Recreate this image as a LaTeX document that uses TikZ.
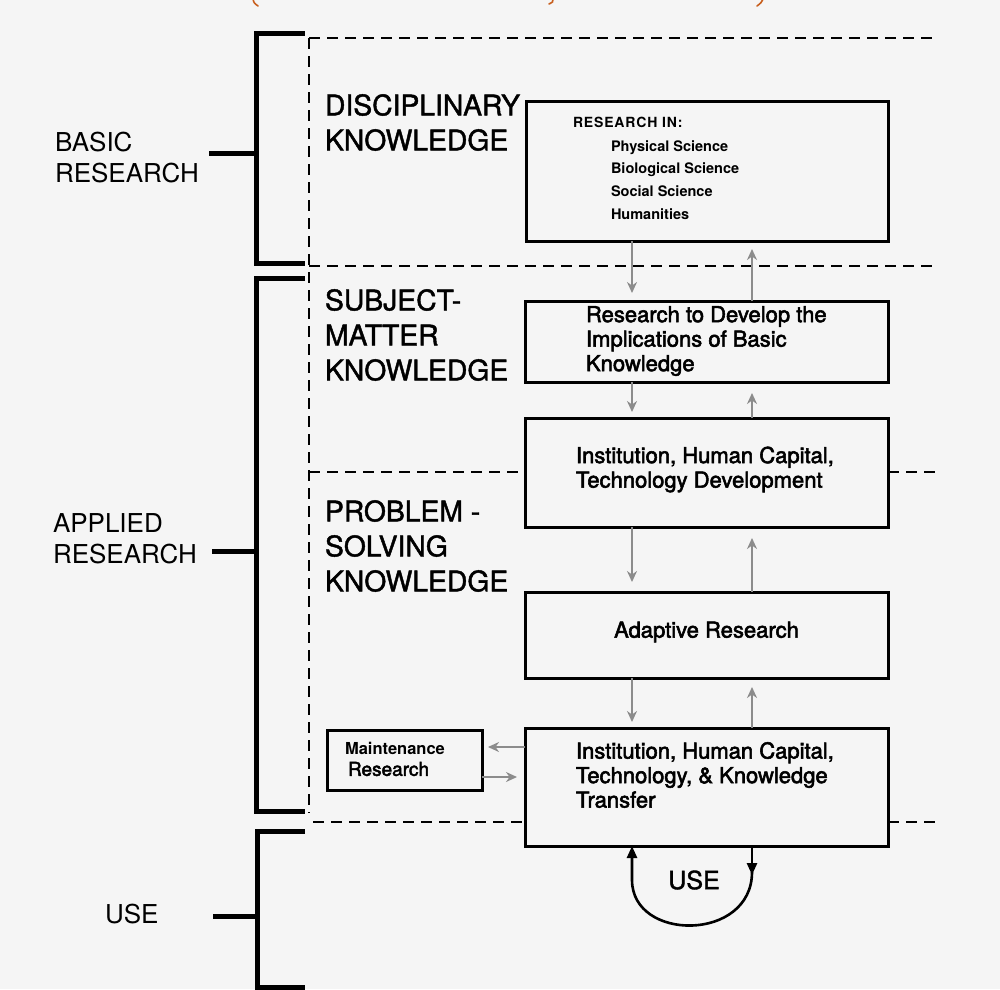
\documentclass[tikz,border=0pt]{standalone}
\usepackage{fontspec}
\setmainfont{TeX Gyre Heros}
\newfontfamily\heavyfont[FakeBold=2.5]{TeX Gyre Heros}
\newfontfamily\midfont[FakeBold=1.5]{TeX Gyre Heros}
\newfontfamily\headfont[LetterSpace=6]{TeX Gyre Heros}
\usetikzlibrary{arrows.meta}
\tikzset{
  boxnode/.style={draw=black, line width=3pt, outer sep=0pt, inner sep=0pt},
  txt/.style={inner sep=0pt, outer sep=0pt, anchor=west, align=left},
  bracket/.style={line width=5pt, line cap=rect},
  dashline/.style={line width=1.8pt, dash pattern=on 11pt off 7pt},
  garrow/.style={draw=black!45, line width=1.9pt, -{Stealth[length=11pt,width=10pt,color=black!45,fill=black!35]}},
  barrow/.style={line width=2.6pt, -{Triangle[length=12pt,width=10pt]}},
  redpen/.style={draw={rgb,255:red,200;green,95;blue,30}, line width=1.6pt, line cap=round},
  bigfont/.style={font=\midfont\fontsize{28.3}{35}\selectfont},
  leftfont/.style={font=\fontsize{26}{31}\selectfont},
  boxfont/.style={font=\heavyfont\fontsize{22}{24.5}\selectfont}
}
\begin{document}
\begin{tikzpicture}[x=1pt,y=-1pt]
\fill[black!4] (0,0) rectangle (1000,989);
\useasboundingbox (0,0) rectangle (1000,989);

% red pen marks at the top edge
\draw[redpen] (253,-1) .. controls (254,3) .. (258,6);
\draw[redpen] (553,-1) .. controls (553,2) .. (549,4);
\draw[redpen] (763,-1) .. controls (761,3) .. (757,6);

% dashed frame lines
\draw[dashline, line width=1.5pt] (309,38) -- (309,813);
\draw[dashline] (309,38) -- (937,38);
\draw[dashline] (309,266) -- (937,266);

% boxes
\node[boxnode, minimum width=362pt, minimum height=140pt] (box1) at (707.5,171) {};
\node[boxnode, minimum width=363pt, minimum height=81pt] (box2) at (706.5,341.5) {};
\node[boxnode, minimum width=363pt, minimum height=109pt] (box3) at (706.5,472.5) {};
\node[boxnode, minimum width=363pt, minimum height=86pt] (box4) at (706.5,635) {};
\node[boxnode, minimum width=363pt, minimum height=118pt] (box5) at (706.5,787) {};
\node[boxnode, minimum width=155pt, minimum height=60pt] (maint) at (404.5,760) {};

\draw[dashline] (309,472) -- (box3.west |- 0,472);
\draw[dashline] (box3.east |- 0,472) -- (937,472);
\draw[dashline] (313,822) -- (box5.west |- 0,822);
\draw[dashline] (box5.east |- 0,822) -- (937,822);

% box texts
\node[txt, font=\headfont\bfseries\fontsize{14}{18}\selectfont] (t1h) at (573,122) {RESEARCH IN:};
\node[txt, font=\bfseries\fontsize{14.5}{22.7}\selectfont] (t1l) at (611,180) {Physical Science\\Biological Science\\Social Science\\Humanities};
\node[txt, boxfont] (t2) at (586,341) {Research to Develop the\\Implications of Basic\\Knowledge};
\node[txt, boxfont] (t3) at (576,469.5) {Institution, Human Capital,\\Technology Development};
\node[boxfont, inner sep=0pt] (t4) at (706.5,632) {Adaptive Research};
\node[txt, boxfont] (t5) at (576,775) {Institution, Human Capital,\\Technology, \& Knowledge\\Transfer};
\node[txt, font=\bfseries\fontsize{16.5}{20}\selectfont] (tm1) at (345,748) {Maintenance};
\node[txt, font=\heavyfont\fontsize{19}{22}\selectfont] (tm2) at (348,769) {Research};

% knowledge labels
\node[txt, bigfont] (k1) at (325,122.5) {DISCIPLINARY\\KNOWLEDGE};
\node[txt, bigfont] (k2) at (325,335) {SUBJECT-\\MATTER\\KNOWLEDGE};
\node[txt, bigfont] (k3) at (325,546) {PROBLEM -\\SOLVING\\KNOWLEDGE};

% left labels
\node[txt, leftfont] (basic) at (55,157.5) {BASIC\\RESEARCH};
\node[txt, leftfont] (applied) at (53,538.5) {APPLIED\\RESEARCH};
\node[txt, leftfont] (use) at (105,914) {USE};

% brackets
\draw[bracket] (302,33) -- (256,33) -- (256,263) -- (302,263);
\draw[bracket] (302,278) -- (256,278) -- (256,811) -- (302,811);
\draw[bracket] (302,831) -- (257,831) -- (257,987) -- (302,987);
\coordinate (bb) at (256,153);
\coordinate (ab) at (256,551);
\coordinate (ub) at (257,916);
\draw[bracket, line cap=butt] (209,153) -- (bb);
\draw[bracket, line cap=butt] (212,551) -- (ab);
\draw[bracket, line cap=butt] (213,916) -- (ub);

% gray arrows between boxes
\coordinate (xl) at (632,0);
\coordinate (xr) at (752,0);
\draw[garrow, shorten >=8pt] (xl |- box1.south) -- (xl |- box2.north);
\draw[garrow, shorten >=8pt] (xr |- box2.north) -- (xr |- box1.south);
\draw[garrow, shorten >=6pt] (xl |- box2.south) -- (xl |- box3.north);
\draw[garrow, shorten >=11pt] (xr |- box3.north) -- (xr |- box2.south);
\draw[garrow, shorten >=10pt] (xl |- box3.south) -- (xl |- box4.north);
\draw[garrow, shorten >=11pt] (xr |- box4.north) -- (xr |- box3.south);
\draw[garrow, shorten >=6pt] (xl |- box4.south) -- (xl |- box5.north);
\draw[garrow, shorten >=9pt] (xr |- box5.north) -- (xr |- box4.south);
\draw[garrow, shorten >=6pt] (box5.west |- 0,747) -- (maint.east |- 0,747);
\draw[garrow, shorten >=8pt] (maint.east |- 0,777) -- (box5.west |- 0,777);

% USE loop
\draw[barrow] (xr |- box5.south) -- ++(0,29);
\draw[barrow] (752,872) .. controls (752,942) and (632,942) .. (632,880) -- (xl |- box5.south);
\node[font=\midfont\fontsize{25}{30}\selectfont, inner sep=0pt] (useloop) at (694,880) {USE};
\end{tikzpicture}
\end{document}
